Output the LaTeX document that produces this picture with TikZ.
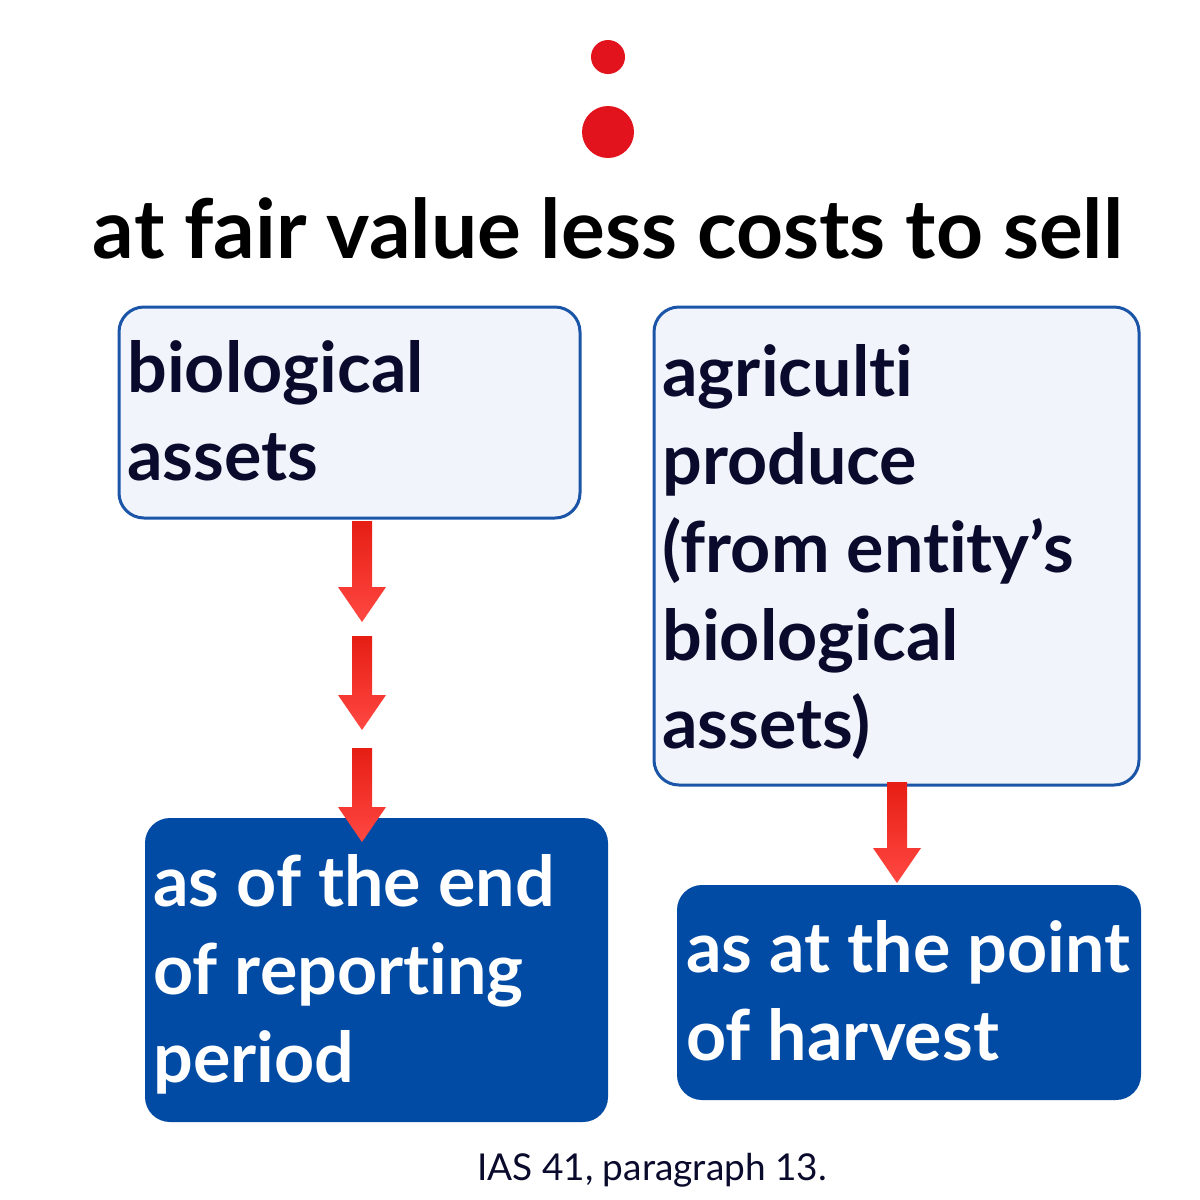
\documentclass[tikz,border=0pt]{standalone}
\usepackage{fontspec}
\setmainfont{Lato}[Ligatures=NoCommon]
\usetikzlibrary{calc}
\definecolor{dotred}{HTML}{E3131D}
\definecolor{arrowdark}{HTML}{E61E14}
\definecolor{arrowlight}{HTML}{FF4842}
\definecolor{boxblue}{HTML}{1B55A8}
\definecolor{boxfill}{HTML}{F1F4FB}
\definecolor{darkfill}{HTML}{024BA5}
\definecolor{inkblue}{HTML}{0A0B2C}
\tikzset{
	lightbox/.style={draw=boxblue,fill=boxfill,line width=1.5pt,rounded corners=12.5pt,inner sep=0pt},
	darkbox/.style={fill=darkfill,rounded corners=12.5pt,inner sep=0pt},
	boxtext/.style={inner sep=0pt,anchor=base west,align=left,font=\bfseries\fontsize{35}{44}\selectfont},
}
\newcommand{\redarrow}[2]{
	\shade[top color=arrowdark,bottom color=arrowlight] ($(#1)+(-10,0)$) -- ($(#1)+(10,0)$) -- ($(#2)+(10,-35)$) -- ($(#2)+(24,-35)$) -- (#2) -- ($(#2)+(-24,-35)$) -- ($(#2)+(-10,-35)$) -- cycle;}
\begin{document}
\begin{tikzpicture}[x=0.5pt,y=-0.5pt]
	\useasboundingbox (0,0) rectangle (1200,1200);
	\fill[white] (0,0) rectangle (1200,1200);
	\fill[dotred] (608,57) circle [radius=8.5pt];
	\fill[dotred] (608,132) circle [radius=13pt];
	\node[anchor=base,inner sep=0pt,font=\bfseries\fontsize{41}{48}\selectfont] (title) at (608,258) {at fair value less costs to sell};
	\node[lightbox,minimum width=230.5pt,minimum height=105.5pt] (bio) at (349.5,412.5) {};
	\node[lightbox,minimum width=242.5pt,minimum height=239pt] (agri) at (896.5,546) {};
	\node[darkbox,minimum width=231.5pt,minimum height=152pt] (endbox) at (376.5,970) {};
	\node[darkbox,minimum width=232pt,minimum height=107.5pt] (harvest) at (909,992.5) {};
	\node[boxtext,text=inkblue] (bio text) at (127,480) {biological\\assets};
	\node[boxtext,text=inkblue] (agri text) at (662,748) {agriculti\\produce\\(from entity’s\\biological\\assets)};
	\node[boxtext,text=white] (end text) at (153,1082) {as of the end\\of reporting\\period};
	\node[boxtext,text=white] (harvest text) at (686,1060) {as at the point\\of harvest};
	\coordinate (a1) at (362,521); \coordinate (b1) at (362,622);
	\coordinate (a2) at (362,636); \coordinate (b2) at (362,730);
	\coordinate (a3) at (362,748); \coordinate (b3) at (362,842);
	\coordinate (a4) at (897,782); \coordinate (b4) at (897,883);
	\foreach \i in {1,...,4}{
		\redarrow{a\i}{b\i}}
	\node[anchor=base,inner sep=0pt,text=inkblue,font=\fontsize{18.5}{22}\selectfont] (source) at (652,1180) {IAS 41, paragraph 13.};
\end{tikzpicture}
\end{document}
